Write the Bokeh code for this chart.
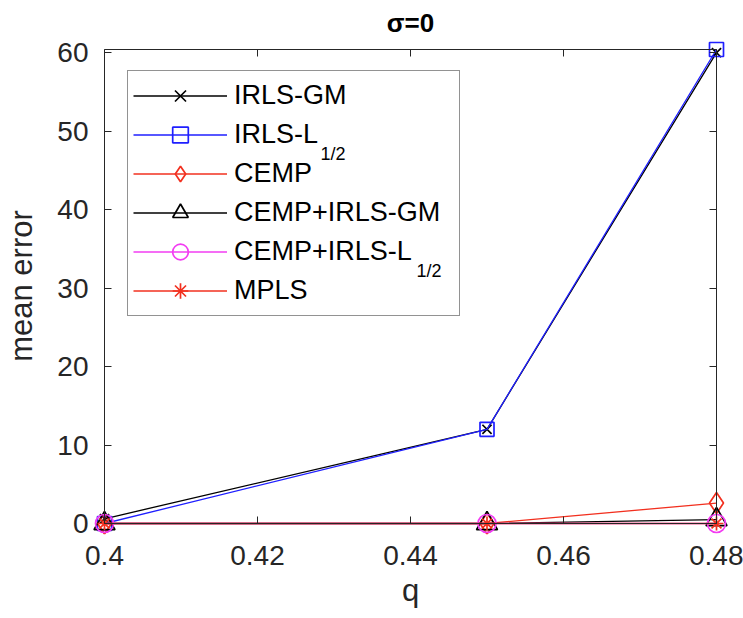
from bokeh.plotting import figure
from bokeh.models import (Range1d, FixedTicker, LinearAxis, Legend, LegendItem)
from bokeh.embed import file_html
from bokeh.resources import INLINE

# ---- data ----
q = [0.4, 0.45, 0.48]
irls_gm = [0.6, 12.0, 60.0]
irls_half = [0.0, 12.0, 60.4]
cemp = [0.0, 0.0, 2.6]
cemp_irls_gm = [0.0, 0.0, 0.5]
cemp_irls_half = [0.0, 0.0, 0.0]
mpls = [0.0, 0.0, 0.0]

x_ticks = [0.4, 0.42, 0.44, 0.46, 0.48]
x_tick_labels = ["0.4", "0.42", "0.44", "0.46", "0.48"]
y_ticks = [0, 10, 20, 30, 40, 50, 60]
y_tick_labels = ["0", "10", "20", "30", "40", "50", "60"]
subscript = "1/2"

FONT = "Liberation Sans"
TXT = "#262626"

all_vals = irls_gm + irls_half + cemp + cemp_irls_gm + cemp_irls_half + mpls
xmin, xmax = min(q), max(q)
ymin, ymax = min(all_vals), max(all_vals)

# ---- layout (pixels) ----
W, H = 743, 618
BOX_L, BOX_R, BOX_T, BOX_B = 104, 716, 49, 523   # visible axes box
PAD, PAD_B = 12, 11                               # room so edge markers are not clipped
sx = (BOX_R - BOX_L) / (xmax - xmin)
sy = (BOX_B - BOX_T) / (ymax - ymin)

p = figure(width=W, height=H,
           x_range=Range1d(xmin - PAD / sx, xmax + PAD / sx),
           y_range=Range1d(ymin - PAD_B / sy, ymax + PAD / sy),
           output_backend="svg", toolbar_location=None,
           min_border_left=BOX_L - PAD, min_border_right=W - BOX_R - PAD,
           min_border_top=BOX_T - PAD, min_border_bottom=H - BOX_B - PAD_B)
p.background_fill_color = "white"
p.border_fill_color = "white"
p.outline_line_color = None
p.xgrid.visible = False
p.ygrid.visible = False

p.title.text = "σ=0"
p.title.text_font = FONT
p.title.text_font_style = "bold"
p.title.text_font_size = "26px"
p.title.text_color = "black"
p.title.align = "center"
p.title.standoff = 0
p.title.offset = -8


def common(ax):
    ax.minor_tick_line_color = None
    ax.major_label_text_font = FONT
    ax.major_label_text_color = TXT
    ax.axis_label_text_font = FONT
    ax.axis_label_text_color = TXT
    ax.axis_label_text_font_style = "normal"


# label-only axes at the frame edges
xa = p.xaxis[0]
common(xa)
xa.ticker = FixedTicker(ticks=x_ticks)
xa.major_label_overrides = {t: l for t, l in zip(x_ticks, x_tick_labels)}
xa.axis_line_color = None
xa.major_tick_line_color = None
xa.major_tick_in = 0
xa.major_tick_out = 0
xa.major_label_text_font_size = "28px"
xa.major_label_standoff = 22 - PAD_B
xa.axis_label = "q"
xa.axis_label_text_font_size = "31px"
xa.axis_label_standoff = 5

ya = p.yaxis[0]
common(ya)
ya.ticker = FixedTicker(ticks=y_ticks)
ya.major_label_overrides = {t: l for t, l in zip(y_ticks, y_tick_labels)}
ya.axis_line_color = None
ya.major_tick_line_color = None
ya.major_tick_in = 0
ya.major_tick_out = 0
ya.major_label_text_font_size = "28px"
ya.major_label_standoff = 16 - PAD
ya.axis_label = "mean error"
ya.axis_label_text_font_size = "31px"
ya.axis_label_standoff = 15

# box axes (lines + inward ticks, no labels) at the data limits
for side, ticks, loc, bounds in [("below", x_ticks, ymin, (xmin, xmax)),
                                 ("above", x_ticks, ymax, (xmin, xmax)),
                                 ("left", y_ticks, xmin, (ymin, ymax)),
                                 ("right", y_ticks, xmax, (ymin, ymax))]:
    ax = LinearAxis(fixed_location=loc, bounds=bounds,
                    ticker=FixedTicker(ticks=ticks))
    ax.minor_tick_line_color = None
    ax.major_label_text_color = None
    ax.major_label_standoff = 0
    ax.major_tick_in = 7
    ax.major_tick_out = 0
    ax.axis_line_color = TXT
    ax.major_tick_line_color = TXT
    p.add_layout(ax, side)

BLACK = "#000000"
BLUE = "#1f1fff"
RED = "#f2301f"
MAG = "#f23cf2"
LW = 1.3

series = [
    ("IRLS-GM", irls_gm, BLACK, "x", 13),
    ("IRLS-L", irls_half, BLUE, "square", 14),
    ("CEMP", cemp, RED, "diamond", 21),
    ("CEMP+IRLS-GM", cemp_irls_gm, BLACK, "triangle", 21),
    ("CEMP+IRLS-L", cemp_irls_half, MAG, "circle", 18),
    ("MPLS", mpls, RED, "asterisk", 14),
]

items = []
for name, ys, col, mk, sz in series:
    lr = p.line(q, ys, line_color=col, line_width=LW)
    sr = p.scatter(q, ys, marker=mk, size=sz, line_color=col,
                   fill_color=None, line_width=1.7)
    items.append(LegendItem(label=name, renderers=[lr, sr]))

# legend box: page x 127..460, y 72..316
LEG_L, LEG_B = 127, 316
legend = Legend(items=items,
                location=(LEG_L - (BOX_L - PAD), (BOX_B + PAD_B) - LEG_B),
                margin=0, padding=5, spacing=0, label_height=39,
                glyph_height=39, glyph_width=94, label_standoff=7,
                label_width=220, label_text_font=FONT,
                label_text_font_size="27px", label_text_color="black",
                border_line_color=TXT, border_line_width=1,
                background_fill_color="white", background_fill_alpha=0.0)
p.add_layout(legend)


def px_to_data(px, py):
    return xmin + (px - BOX_L) / sx, ymin + (BOX_B - py) / sy


# subscripts "1/2" of the two L_{1/2} legend labels
sub_x, sub_y = [], []
for (px, py) in [(320, 153), (416, 270)]:
    x, y = px_to_data(px, py)
    sub_x.append(x)
    sub_y.append(y)
p.text(x=sub_x, y=sub_y, text=[subscript, subscript],
       text_font={"value": FONT}, text_font_size="18px", text_color="black",
       text_baseline="alphabetic", text_align="left")

open("out.html", "w").write(file_html(p, INLINE))
